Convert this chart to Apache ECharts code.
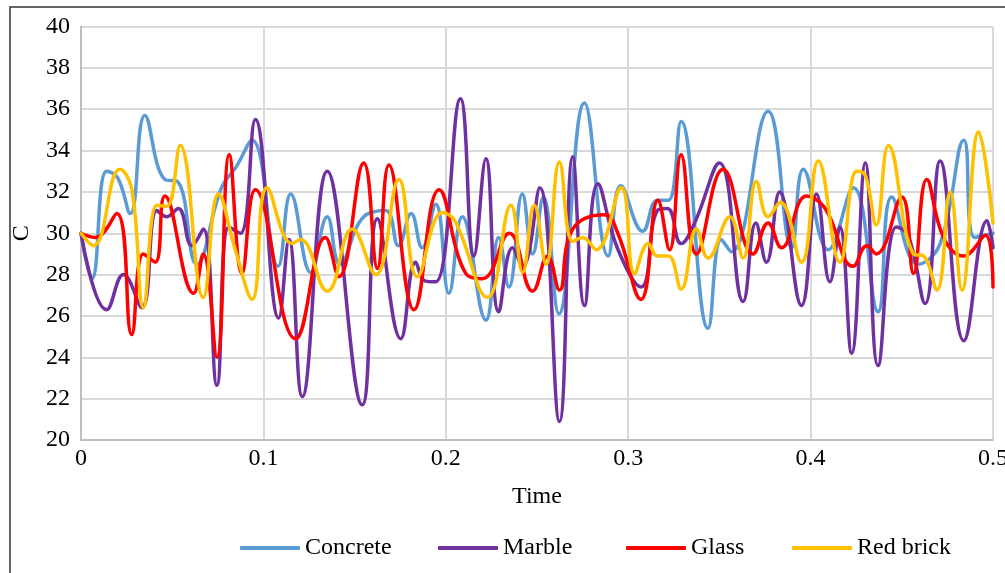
<!DOCTYPE html>
<html>
<head>
<meta charset="utf-8">
<script src="https://cdn.jsdelivr.net/npm/echarts@6/dist/echarts.min.js"></script>
<style>
  html, body { margin: 0; padding: 0; background: #fff; }
  #chart { width: 1005px; height: 573px; }
</style>
</head>
<body>
<div id="chart"></div>
<script>
// Series names and colours
const seriesNames = ['Concrete', 'Marble', 'Glass', 'Red brick'];
const seriesColors = ['#5B9BD5', '#7030A0', '#FF0000', '#FFC000'];

// Concrete
const concreteTime = [0, 0.006, 0.014, 0.020, 0.027, 0.035, 0.046, 0.053, 0.0635, 0.077, 0.085, 0.0938, 0.108, 0.115, 0.126, 0.135, 0.142, 0.155, 0.167, 0.174, 0.181, 0.187, 0.1945, 0.2017, 0.209, 0.222, 0.229, 0.2346, 0.242, 0.2476, 0.2535, 0.262, 0.276, 0.289, 0.296, 0.308, 0.316, 0.322, 0.329, 0.3438, 0.351, 0.3566, 0.3767, 0.3896, 0.396, 0.4097, 0.4235, 0.437, 0.4445, 0.459, 0.471, 0.484, 0.490, 0.5];
const concreteC = [30, 27.8, 33.0, 32.7, 30.95, 35.7, 32.6, 32.5, 28.5, 32.2, 33.2, 34.5, 28.4, 31.9, 28.1, 30.8, 28.5, 30.8, 31.1, 29.4, 30.95, 29.3, 31.4, 27.1, 30.8, 25.8, 29.8, 27.4, 31.9, 29.0, 31.75, 26.1, 36.3, 28.9, 32.3, 30.1, 31.6, 31.6, 35.4, 25.4, 29.7, 29.1, 35.9, 29.3, 33.1, 29.2, 32.2, 26.2, 31.75, 28.5, 29.5, 34.5, 29.8, 30.0];

// Marble
const marbleTime = [0, 0.0141, 0.0233, 0.0333, 0.0416, 0.047, 0.0533, 0.0608, 0.067, 0.0745, 0.081, 0.0874, 0.0956, 0.1084, 0.114, 0.1213, 0.135, 0.1542, 0.1625, 0.1753, 0.1835, 0.1885, 0.1945, 0.208, 0.2154, 0.222, 0.229, 0.2366, 0.242, 0.2515, 0.2623, 0.2696, 0.276, 0.2833, 0.294, 0.307, 0.316, 0.3215, 0.329, 0.3364, 0.350, 0.363, 0.370, 0.3758, 0.383, 0.395, 0.4033, 0.4106, 0.416, 0.4225, 0.430, 0.437, 0.447, 0.4535, 0.4628, 0.471, 0.484, 0.4967, 0.5];
const marbleC = [30, 26.3, 28.0, 26.4, 31.1, 30.8, 31.2, 29.4, 30.2, 22.65, 30.3, 30.0, 35.5, 25.9, 29.7, 22.1, 33.0, 21.7, 30.7, 24.9, 28.6, 27.7, 27.65, 36.5, 28.9, 33.6, 26.2, 29.3, 28.4, 32.2, 20.9, 33.7, 26.5, 32.4, 29.3, 27.4, 31.1, 31.2, 29.5, 30.5, 33.4, 26.7, 30.5, 28.6, 32.0, 26.5, 31.9, 27.65, 30.3, 24.2, 33.4, 23.6, 30.3, 29.9, 26.6, 33.5, 24.8, 30.6, 29.3];

// Glass
const glassTime = [0, 0.0077, 0.0196, 0.0278, 0.0342, 0.0407, 0.046, 0.0617, 0.067, 0.0745, 0.0813, 0.0883, 0.0956, 0.1176, 0.134, 0.1414, 0.155, 0.1625, 0.1688, 0.1826, 0.1963, 0.211, 0.220, 0.2348, 0.2476, 0.2558, 0.2623, 0.2696, 0.287, 0.2943, 0.307, 0.3163, 0.3227, 0.329, 0.3374, 0.352, 0.3685, 0.3767, 0.384, 0.3978, 0.408, 0.4234, 0.4308, 0.436, 0.450, 0.4564, 0.4637, 0.4729, 0.4838, 0.4958, 0.5];
const glassC = [30, 29.8, 30.95, 25.1, 29.0, 28.6, 31.8, 27.1, 29.0, 24.0, 33.8, 28.05, 32.1, 24.9, 29.8, 27.9, 33.4, 28.3, 33.3, 26.3, 32.1, 28.05, 27.8, 30.0, 27.2, 28.9, 27.25, 30.2, 30.9, 30.0, 26.8, 31.6, 29.2, 33.8, 29.0, 33.1, 29.0, 30.5, 29.3, 31.8, 31.2, 28.4, 29.4, 29.0, 31.75, 28.05, 32.6, 29.8, 28.9, 29.9, 27.4];

// Red brick
const brickTime = [0, 0.0068, 0.0214, 0.0279, 0.0342, 0.0416, 0.047, 0.0544, 0.067, 0.0754, 0.0846, 0.0938, 0.102, 0.1157, 0.1203, 0.135, 0.1487, 0.1615, 0.1743, 0.1844, 0.1982, 0.205, 0.2229, 0.2357, 0.2421, 0.2485, 0.255, 0.2623, 0.2696, 0.275, 0.2824, 0.2962, 0.3035, 0.311, 0.316, 0.322, 0.329, 0.3374, 0.3438, 0.3557, 0.363, 0.3703, 0.3767, 0.3834, 0.395, 0.4042, 0.4161, 0.4253, 0.430, 0.436, 0.4427, 0.4564, 0.462, 0.4692, 0.4765, 0.483, 0.4921, 0.5];
const brickC = [30, 29.4, 33.1, 32.1, 26.4, 31.35, 31.3, 34.25, 26.9, 31.9, 29.2, 26.8, 32.2, 29.5, 29.7, 27.2, 30.2, 28.0, 32.6, 27.9, 31.0, 30.6, 26.9, 31.35, 28.1, 31.35, 28.5, 33.45, 29.6, 29.8, 29.2, 32.2, 28.05, 29.5, 28.9, 28.9, 27.3, 30.2, 28.8, 30.8, 28.8, 32.5, 30.8, 31.5, 28.6, 33.5, 28.6, 33.0, 32.8, 30.4, 34.25, 29.0, 28.9, 27.25, 32.0, 27.25, 34.9, 30.5];

// Axis ticks
const xTicks = [0, 0.1, 0.2, 0.3, 0.4, 0.5];
const yTicks = [20, 22, 24, 26, 28, 30, 32, 34, 36, 38, 40];

const timeSets = [concreteTime, marbleTime, glassTime, brickTime];
const valueSets = [concreteC, marbleC, glassC, brickC];

const FONT = '"Liberation Serif", "Times New Roman", serif';
const FONT_SIZE = 24;

// One legend block per series so each entry sits at its own spot along the bottom row
const legendLeft = [240, 438, 626, 792];

const chart = echarts.init(document.getElementById('chart'), null, { renderer: 'canvas' });

chart.setOption({
  animation: false,
  backgroundColor: '#ffffff',
  graphic: [{
    type: 'rect',
    left: 7.5, top: 4.5,
    shape: { width: 1020, height: 600 },
    style: { fill: 'none', stroke: '#333333', lineWidth: 1.5 },
    silent: true
  }],
  // Fixed plot rectangle; the last x label is allowed to run past the edge
  grid: { left: 81, right: 12, top: 26.5, bottom: 133, containLabel: false, outerBoundsMode: 'none' },
  legend: seriesNames.map((name, i) => ({
    data: [name],
    left: legendLeft[i],
    top: 536,
    padding: 0,
    icon: 'roundRect',
    itemWidth: 60,
    itemHeight: 4,
    textStyle: { fontFamily: FONT, fontSize: FONT_SIZE, color: '#000' }
  })),
  xAxis: {
    type: 'value',
    min: xTicks[0],
    max: xTicks[xTicks.length - 1],
    interval: 0.1,
    name: 'Time',
    nameLocation: 'middle',
    nameGap: 45,
    nameTextStyle: { fontFamily: FONT, fontSize: FONT_SIZE, color: '#000' },
    axisLine: { show: true, lineStyle: { color: '#BFBFBF', width: 2 } },
    axisTick: { show: false },
    axisLabel: { fontFamily: FONT, fontSize: FONT_SIZE, color: '#000', margin: 7, formatter: v => String(+v.toFixed(1)) },
    splitLine: { show: true, lineStyle: { color: '#D9D9D9', width: 2 } }
  },
  yAxis: {
    type: 'value',
    min: yTicks[0],
    max: yTicks[yTicks.length - 1],
    interval: 2,
    name: 'C',
    nameLocation: 'middle',
    nameRotate: 90,
    nameGap: 47,
    nameTextStyle: { fontFamily: FONT, fontSize: FONT_SIZE, color: '#000' },
    axisLine: { show: true, lineStyle: { color: '#BFBFBF', width: 2 } },
    axisTick: { show: false },
    axisLabel: { fontFamily: FONT, fontSize: FONT_SIZE, color: '#000', margin: 11 },
    splitLine: { show: true, lineStyle: { color: '#D9D9D9', width: 2 } }
  },
  series: seriesNames.map((name, i) => ({
    name: name,
    type: 'line',
    smooth: 0.45,
    showSymbol: false,
    symbol: 'none',
    clip: true,
    lineStyle: { color: seriesColors[i], width: 3.5, cap: 'round', join: 'round' },
    itemStyle: { color: seriesColors[i] },
    data: timeSets[i].map((t, k) => [t, valueSets[i][k]])
  }))
});
</script>
</body>
</html>
